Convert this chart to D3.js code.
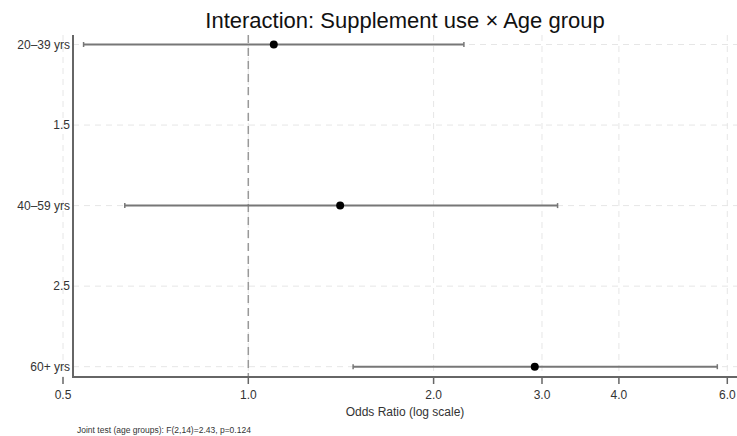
<!DOCTYPE html>
<html>
<head>
<meta charset="utf-8">
<script src="https://cdn.jsdelivr.net/npm/d3@7"></script>
<style>
  body { margin: 0; background: #fff; }
  text { font-family: "Liberation Sans", Arial, sans-serif; }
</style>
</head>
<body>
<div id="chart"></div>
<script>
// values
const groups = ["20–39 yrs", "40–59 yrs", "60+ yrs"];
const groupPos = [1, 2, 3];
const oddsRatio = [1.10, 1.41, 2.92];
const ciLow = [0.54, 0.63, 1.48];
const ciHigh = [2.24, 3.18, 5.78];
const xTicks = [0.5, 1.0, 2.0, 3.0, 4.0, 6.0];
const yTicks = [1, 1.5, 2, 2.5, 3];
const yTickLabels = ["20–39 yrs", "1.5", "40–59 yrs", "2.5", "60+ yrs"];

const width = 737, height = 436
const axisX = 73, plotTop = 35, plotBottom = 377, plotRight = 737

const svg = d3.select("#chart").append("svg")
    .attr("width", width)
    .attr("height", height)

const x = d3.scaleLog()
    .domain([0.5, 6.0])
    .range([63, 727.3])

const y = d3.scaleLinear()
    .domain([1, 3])
    .range([44.5, 366.7])

const rows = groups.map((g, i) => ({group: g, pos: groupPos[i], or: oddsRatio[i], lo: ciLow[i], hi: ciHigh[i]}))

// grid
svg.append("g").selectAll("line")
    .data(xTicks)
    .enter().append("line")
    .attr("x1", d => x(d)).attr("x2", d => x(d))
    .attr("y1", plotTop).attr("y2", plotBottom)
    .attr("stroke", "#e6e6e6")
    .attr("stroke-width", 1)
    .attr("stroke-dasharray", "6,5")

svg.append("g").selectAll("line")
    .data(yTicks)
    .enter().append("line")
    .attr("x1", axisX).attr("x2", plotRight)
    .attr("y1", d => y(d)).attr("y2", d => y(d))
    .attr("stroke", "#e6e6e6")
    .attr("stroke-width", 1)
    .attr("stroke-dasharray", "6,5")

// reference line at OR = 1
svg.append("line")
    .attr("x1", x(1)).attr("x2", x(1))
    .attr("y1", plotTop).attr("y2", plotBottom)
    .attr("stroke", "#999")
    .attr("stroke-width", 1.5)
    .attr("stroke-dasharray", "8,5")

// axes lines
svg.append("line")
    .attr("x1", axisX).attr("x2", axisX)
    .attr("y1", plotTop).attr("y2", plotBottom + 1)
    .attr("stroke", "#666").attr("stroke-width", 2)
svg.append("line")
    .attr("x1", axisX).attr("x2", plotRight)
    .attr("y1", plotBottom).attr("y2", plotBottom)
    .attr("stroke", "#666").attr("stroke-width", 2)

// x ticks
const xt = svg.append("g").selectAll("g")
    .data(xTicks)
    .enter().append("g")
    .attr("transform", d => "translate(" + x(d) + "," + plotBottom + ")")
xt.append("line")
    .attr("y1", 0).attr("y2", 7)
    .attr("stroke", "#666").attr("stroke-width", 1.5)
xt.append("text")
    .attr("y", 22)
    .attr("text-anchor", "middle")
    .attr("font-size", 12)
    .attr("fill", "#333")
    .text(d => d3.format(".1f")(d))

// y labels
svg.append("g").selectAll("text")
    .data(yTicks)
    .enter().append("text")
    .attr("x", 70)
    .attr("y", d => y(d))
    .attr("dy", "0.35em")
    .attr("text-anchor", "end")
    .attr("font-size", 12)
    .attr("fill", "#333")
    .text((d, i) => yTickLabels[i])

// confidence intervals
const ci = svg.append("g").selectAll("g")
    .data(rows)
    .enter().append("g")
ci.append("line")
    .attr("x1", d => x(d.lo)).attr("x2", d => x(d.hi))
    .attr("y1", d => y(d.pos)).attr("y2", d => y(d.pos))
    .attr("stroke", "#777").attr("stroke-width", 2)
ci.append("line")
    .attr("x1", d => x(d.lo)).attr("x2", d => x(d.lo))
    .attr("y1", d => y(d.pos) - 2.5).attr("y2", d => y(d.pos) + 2.5)
    .attr("stroke", "#777").attr("stroke-width", 1.5)
ci.append("line")
    .attr("x1", d => x(d.hi)).attr("x2", d => x(d.hi))
    .attr("y1", d => y(d.pos) - 2.5).attr("y2", d => y(d.pos) + 2.5)
    .attr("stroke", "#777").attr("stroke-width", 1.5)
ci.append("circle")
    .attr("cx", d => x(d.or))
    .attr("cy", d => y(d.pos))
    .attr("r", 4)
    .attr("fill", "#000")

// titles
svg.append("text")
    .attr("x", 405).attr("y", 28)
    .attr("text-anchor", "middle")
    .attr("font-size", 22)
    .attr("fill", "#111")
    .text("Interaction: Supplement use × Age group")

svg.append("text")
    .attr("x", 405).attr("y", 416)
    .attr("text-anchor", "middle")
    .attr("font-size", 12)
    .attr("fill", "#333")
    .text("Odds Ratio (log scale)")

svg.append("text")
    .attr("x", 77).attr("y", 433)
    .attr("font-size", 8.5)
    .attr("fill", "#333")
    .text("Joint test (age groups): F(2,14)=2.43, p=0.124")
</script>
</body>
</html>
